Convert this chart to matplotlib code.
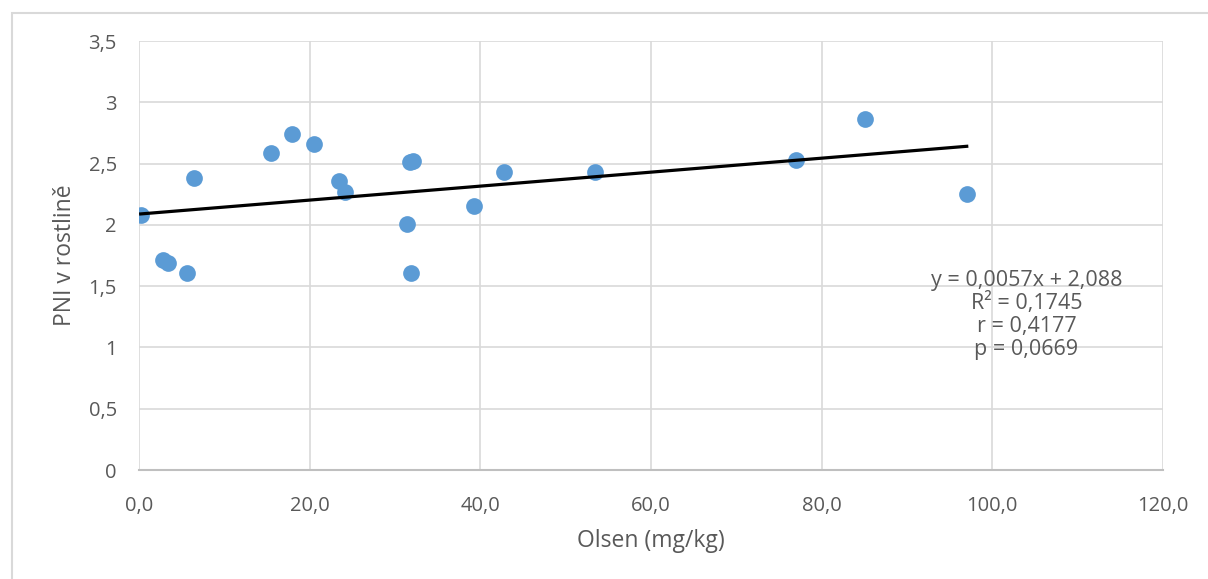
import numpy as np
import matplotlib.pyplot as plt
from matplotlib.patches import Rectangle
from matplotlib.ticker import FuncFormatter

# Olsen P (mg/kg) vs. PNI in the plant
olsen = [0.2, 2.8, 3.4, 5.6, 6.4, 15.5, 17.9, 20.5, 23.4, 24.1,
         31.4, 31.7, 32.1, 31.9, 39.3, 42.8, 53.4, 77.0, 85.1, 97.0]
pni = [2.08, 1.71, 1.69, 1.61, 2.38, 2.59, 2.74, 2.66, 2.36, 2.27,
       2.01, 2.51, 2.52, 1.61, 2.15, 2.43, 2.43, 2.53, 2.86, 2.25]

slope, intercept = 0.0057, 2.088
stats_lines = ["y = 0,0057x + 2,088", "R² = 0,1745", "r = 0,4177", "p = 0,0669"]

TXT = "#595959"
GRID = "#d9d9d9"
plt.rcParams["font.family"] = ["Open Sans", "DejaVu Sans"]

fig = plt.figure(figsize=(12.08, 5.79), dpi=100)
# chart-area border
fig.patches.append(Rectangle((12 / 1208, -0.1), 1.2, (579 - 13) / 579 + 0.1,
                             transform=fig.transFigure, fill=False,
                             edgecolor=GRID, lw=1.5))

ax = fig.add_axes([139 / 1208, 109 / 579, 1024 / 1208, 429 / 579])
ax.scatter(olsen, pni, s=145, color="#5b9bd5", zorder=3, linewidths=0)
xs = np.array([min(olsen), max(olsen)])
ax.plot(xs, slope * xs + intercept, color="black", lw=2.3, zorder=4)

ax.set_xlim(0, 120)
ax.set_ylim(0, 3.5)
ax.set_xticks(np.arange(0, 121, 20))
ax.set_yticks(np.arange(0, 3.51, 0.5))
ax.xaxis.set_major_formatter(FuncFormatter(lambda v, p: f"{v:.1f}".replace(".", ",")))
ax.yaxis.set_major_formatter(FuncFormatter(lambda v, p: f"{v:g}".replace(".", ",")))
ax.grid(True, color=GRID, lw=1.2)
ax.set_axisbelow(True)
for s in ["top", "right", "left"]:
    ax.spines[s].set_visible(False)
ax.spines["bottom"].set_color("#bfbfbf")
ax.spines["bottom"].set_linewidth(1.5)
ax.tick_params(axis="y", length=0, labelsize=14.5, colors=TXT, pad=16)
ax.tick_params(axis="x", length=0, labelsize=14.5, colors=TXT, pad=19)

ax.set_xlabel("Olsen (mg/kg)", fontsize=16.5, color=TXT, labelpad=9)
ax.set_ylabel("PNI v rostlině", fontsize=16.5, color=TXT, labelpad=8)

for i, line in enumerate(stats_lines):
    ax.text(104.0, 1.55 - i * 0.188, line, ha="center", va="center",
            fontsize=15.5, color=TXT)

fig.savefig("out.png", dpi=100)
